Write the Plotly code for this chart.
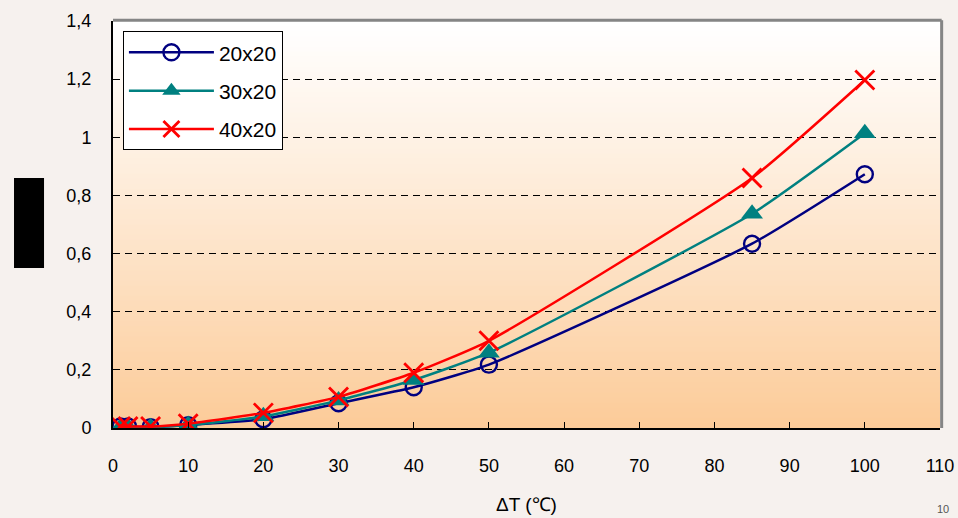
import plotly.graph_objects as go

# ---- data ----
dT = [1, 2, 5, 10, 20, 30, 40, 50, 85, 100]
s20x20 = [0.005, 0.005, 0.003, 0.010, 0.030, 0.085, 0.140, 0.218, 0.634, 0.873]
s30x20 = [0.003, 0.003, 0.003, 0.010, 0.040, 0.095, 0.165, 0.259, 0.737, 1.014]
s40x20 = [0.005, 0.005, 0.005, 0.015, 0.052, 0.107, 0.190, 0.300, 0.860, 1.197]
names = ["20x20", "30x20", "40x20"]
x_ticks = list(range(0, 111, 10))
y_ticks = [0, 0.2, 0.4, 0.6, 0.8, 1.0, 1.2, 1.4]
y_tick_text = ["0", "0,2", "0,4", "0,6", "0,8", "1", "1,2", "1,4"]

FONT = "Liberation Sans, Arial, sans-serif"

fig = go.Figure()
fig.add_trace(go.Scatter(x=dT, y=s20x20, name=names[0], legendgroup="a", mode="lines+markers",
                         line=dict(color="#000080", width=2.5, shape="spline", smoothing=0.5),
                         marker=dict(symbol="circle-open", size=16, color="#000080",
                                     line=dict(width=2.4, color="#000080"))))
fig.add_trace(go.Scatter(x=dT, y=s30x20, name=names[1], legendgroup="b", mode="lines+markers",
                         line=dict(color="#008080", width=2.5, shape="spline", smoothing=0.5),
                         marker=dict(symbol="triangle-up", size=19, color="#008080")))
fig.add_trace(go.Scatter(x=dT, y=s40x20, name=names[2], legendgroup="c", mode="lines+markers",
                         line=dict(color="#FF0000", width=2.5, shape="spline", smoothing=0.5),
                         marker=dict(symbol="x-thin-open", size=19, color="#FF0000",
                                     line=dict(width=2.8, color="#FF0000"))))

# gradient plot background (white at top to peach at bottom)
shapes = []
N = 80
top = (255, 255, 255)
bot = (252, 203, 152)
for i in range(N):
    t = (i + 0.5) / N  # 0 at bottom .. 1 at top
    f = (1 - t) ** 1.1
    c = tuple(int(round(top[k] + (bot[k] - top[k]) * f)) for k in range(3))
    shapes.append(dict(type="rect", xref="x domain", yref="y domain",
                       x0=0, x1=1, y0=i / N, y1=(i + 1) / N + 0.002,
                       fillcolor="rgb(%d,%d,%d)" % c, line=dict(width=0), layer="below"))
# gray top and right borders
shapes.append(dict(type="line", xref="x domain", yref="y domain", x0=0, x1=1.002, y0=1.002, y1=1.002,
                   line=dict(color="#858585", width=3)))
shapes.append(dict(type="line", xref="x domain", yref="y domain", x0=1.002, x1=1.002, y0=0, y1=1.002,
                   line=dict(color="#858585", width=3)))
# redaction block (y axis title hidden)
shapes.append(dict(type="rect", xref="paper", yref="paper", x0=-0.1197, x1=-0.0834, y0=0.393, y1=0.614,
                   fillcolor="black", line=dict(width=0)))

fig.update_layout(
    width=958, height=518,
    margin=dict(l=113, r=18, t=21, b=90),
    paper_bgcolor="#F6F1EE",
    plot_bgcolor="rgba(0,0,0,0)",
    font=dict(family=FONT, size=18, color="black"),
    shapes=shapes,
    showlegend=True,
    legend=dict(x=0.012, y=0.975, xanchor="left", yanchor="top",
                bgcolor="white", bordercolor="black", borderwidth=1,
                font=dict(family=FONT, size=21), itemwidth=85,
                traceorder="grouped", tracegroupgap=8),
    xaxis=dict(range=[0, 110], tickvals=x_ticks, showgrid=False, zeroline=False,
               showline=True, linecolor="black", linewidth=2,
               ticks="inside", ticklen=6, tickcolor="black",
               ticklabelstandoff=20, automargin=False,
               title=dict(text="ΔT (℃)", font=dict(family=FONT, size=19), standoff=23)),
    yaxis=dict(range=[0, 1.4], tickvals=y_ticks, ticktext=y_tick_text,
               showgrid=True, gridcolor="black", gridwidth=1, griddash="7px,5px",
               zeroline=False, showline=True, linecolor="black", linewidth=2,
               ticks="inside", ticklen=6, tickcolor="black", ticklabelstandoff=16,
               automargin=False),
)

fig.add_annotation(text="10", xref="paper", yref="paper", x=1.004, y=-0.2187,
                   xanchor="center", yanchor="bottom", showarrow=False,
                   font=dict(family=FONT, size=11, color="#555"))

fig.write_html("out.html", config={"displayModeBar": False},
               post_script="document.body.style.margin='0';")
